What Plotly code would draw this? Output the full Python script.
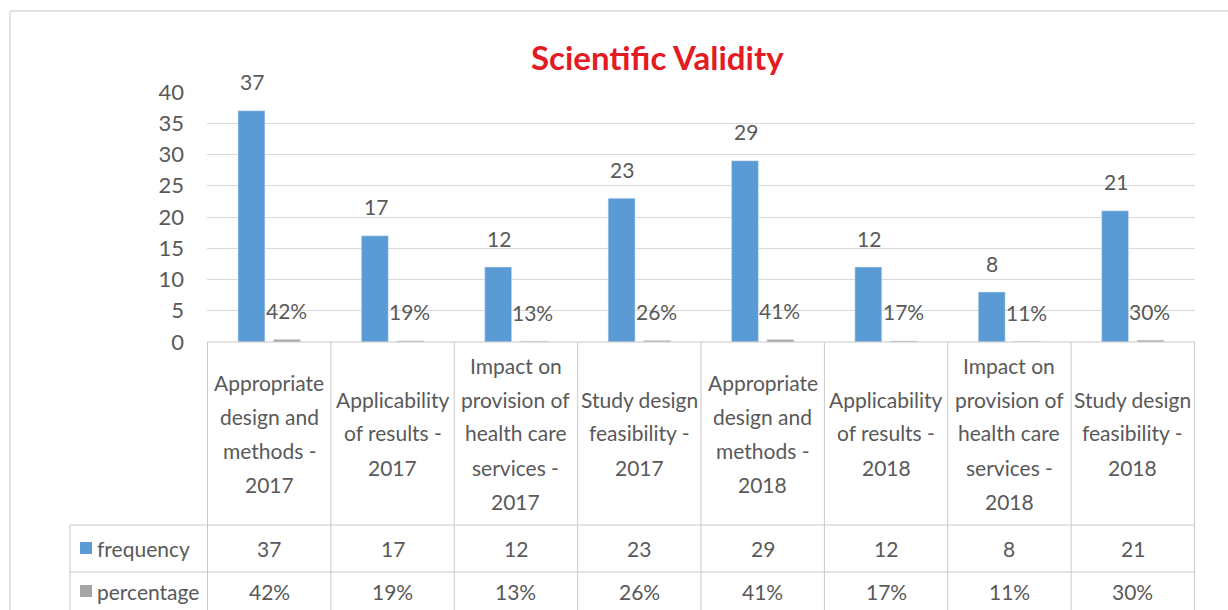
import plotly.graph_objects as go

# ---------------- data ----------------
categories = [
    "Appropriate design and methods - 2017",
    "Applicability of results - 2017",
    "Impact on provision of health care services - 2017",
    "Study design feasibility - 2017",
    "Appropriate design and methods - 2018",
    "Applicability of results - 2018",
    "Impact on provision of health care services - 2018",
    "Study design feasibility - 2018",
]
category_lines = [
    ["Appropriate", "design and", "methods -", "2017"],
    ["Applicability", "of results -", "2017"],
    ["Impact on", "provision of", "health care", "services -", "2017"],
    ["Study design", "feasibility -", "2017"],
    ["Appropriate", "design and", "methods -", "2018"],
    ["Applicability", "of results -", "2018"],
    ["Impact on", "provision of", "health care", "services -", "2018"],
    ["Study design", "feasibility -", "2018"],
]
frequency = [37, 17, 12, 23, 29, 12, 8, 21]
percentage = [0.42, 0.19, 0.13, 0.26, 0.41, 0.17, 0.11, 0.30]
series_names = ["frequency", "percentage"]
y_ticks = [0, 5, 10, 15, 20, 25, 30, 35, 40]

# ---------------- style ----------------
BLUE = "#5b9bd5"
GRAY = "#a5a5a5"
TXT = "#595959"
GRID = "#d9d9d9"
TBL = "#c9c9c9"
FONT = "Lato, Roboto, sans-serif"
FS = 21
LINE_H = 34

W, H = 1228, 610
L, R, T, B = 207, 33, 92, 268
PW = W - L - R
PH = H - T - B


def px_x(X):
    return (X - L) / PW


def px_y(Y):
    return (H - B - Y) / PH


pct_text = [f"{round(p * 100)}%" for p in percentage]

fig = go.Figure()
fig.add_trace(go.Bar(x=categories, y=frequency, name=series_names[0],
                     marker_color=BLUE, showlegend=False))
fig.add_trace(go.Bar(x=categories, y=percentage, name=series_names[1],
                     marker_color=GRAY, showlegend=False))

annotations = []
shapes = []
tfont = dict(family=FONT, size=FS, color=TXT)

# value labels above bars
for c, v in zip(categories, frequency):
    annotations.append(dict(x=c, y=v, xref="x", yref="y", text=str(v), showarrow=False,
                            xshift=-17, yshift=29, yanchor="middle", font=tfont))
for c, v, t in zip(categories, percentage, pct_text):
    annotations.append(dict(x=c, y=v, xref="x", yref="y", text=t, showarrow=False,
                            xshift=17, yshift=29, yanchor="middle", font=tfont))

# data table: header (category labels), one annotation per line
HEAD_C = 433
for c, lines in zip(categories, category_lines):
    n = len(lines)
    for k, ln in enumerate(lines):
        yc = HEAD_C + (k - (n - 1) / 2) * LINE_H
        annotations.append(dict(x=c, y=px_y(yc), xref="x", yref="paper", text=ln,
                                showarrow=False, yanchor="middle", font=tfont))
# data table rows
row_centers = [548, 591]
for c, v, t in zip(categories, frequency, pct_text):
    annotations.append(dict(x=c, y=px_y(row_centers[0]), xref="x", yref="paper", text=str(v),
                            showarrow=False, yanchor="middle", font=tfont))
    annotations.append(dict(x=c, y=px_y(row_centers[1]), xref="x", yref="paper", text=t,
                            showarrow=False, yanchor="middle", font=tfont))
# legend keys in table
for name, col, yc in zip(series_names, [BLUE, GRAY], row_centers):
    shapes.append(dict(type="rect", xref="paper", yref="paper",
                       x0=px_x(80), x1=px_x(92), y0=px_y(yc + 6), y1=px_y(yc - 6),
                       fillcolor=col, line=dict(width=0)))
    annotations.append(dict(x=px_x(95), y=px_y(yc), xref="paper", yref="paper", text=name,
                            showarrow=False, xanchor="left", yanchor="middle", font=tfont))

# table grid lines
for i in range(len(categories) + 1):
    shapes.append(dict(type="line", xref="x", yref="paper", x0=i - 0.5, x1=i - 0.5,
                       y0=px_y(342), y1=px_y(620), line=dict(color=TBL, width=1)))
shapes.append(dict(type="line", xref="paper", yref="paper", x0=px_x(70), x1=px_x(70),
                   y0=px_y(525), y1=px_y(620), line=dict(color=TBL, width=1)))
for Y in [525, 572]:
    shapes.append(dict(type="line", xref="paper", yref="paper", x0=px_x(70), x1=1,
                       y0=px_y(Y), y1=px_y(Y), line=dict(color=TBL, width=1)))
shapes.append(dict(type="line", xref="paper", yref="paper", x0=0, x1=1,
                   y0=0, y1=0, line=dict(color=TBL, width=1)))

# outer chart border
shapes.append(dict(type="line", xref="paper", yref="paper", x0=px_x(10), x1=px_x(1228),
                   y0=px_y(11), y1=px_y(11), line=dict(color=GRID, width=1.5)))
shapes.append(dict(type="line", xref="paper", yref="paper", x0=px_x(10), x1=px_x(10),
                   y0=px_y(11), y1=px_y(620), line=dict(color=GRID, width=1.5)))

# title
annotations.append(dict(x=px_x(657), y=px_y(57), xref="paper", yref="paper",
                        text="<b>Scientific Validity</b>", showarrow=False,
                        yanchor="middle",
                        font=dict(family=FONT, size=33, color="#e31b23")))

fig.update_layout(
    width=W, height=H,
    margin=dict(l=L, r=R, t=T, b=B, pad=0),
    plot_bgcolor="white", paper_bgcolor="white",
    barmode="group", bargap=0.425, bargroupgap=0.24,
    showlegend=False,
    annotations=annotations, shapes=shapes,
    font=tfont,
)
fig.update_xaxes(showticklabels=False, showgrid=False, zeroline=False, showline=False,
                 ticks="")
fig.update_yaxes(range=[0, 40], tickvals=y_ticks, showgrid=True, gridcolor=GRID,
                 gridwidth=1, zeroline=False, showline=False, ticks="",
                 ticklabelstandoff=22,
                 tickfont=dict(family=FONT, size=22, color=TXT))

fig.write_html("out.html", config={"displayModeBar": False},
               post_script="document.body.style.margin='0';document.body.style.overflow='hidden';")
